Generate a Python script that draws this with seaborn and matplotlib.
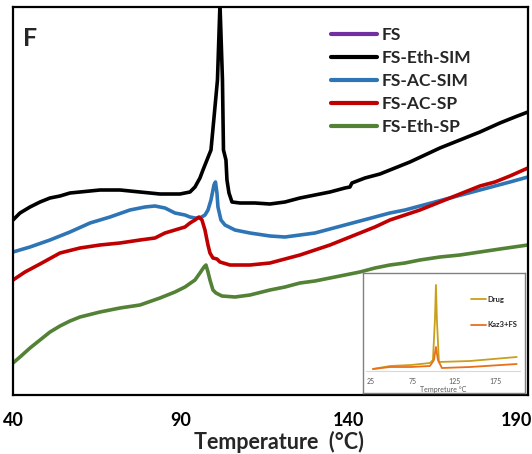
import numpy as np
import pandas as pd
import matplotlib
matplotlib.use("Agg")
import matplotlib.pyplot as plt
from matplotlib.lines import Line2D
import seaborn as sns

sns.set_style("white")
plt.rcParams['font.family'] = ['Lato', 'DejaVu Sans']

# ---------------- data ----------------
eth_sim_T = [40.0, 42.08, 45.06, 48.04, 51.01, 53.99, 56.96, 59.94, 65.89, 71.85, 77.80, 83.75,
             89.70, 91.19, 92.68, 94.17, 95.65, 96.55, 97.74, 98.93, 99.82, 100.86, 101.61,
             102.35, 102.65, 103.39, 103.69, 104.29, 105.18, 107.56, 112.02, 116.49, 120.95,
             125.42, 129.88, 134.35, 138.81, 140.30, 140.89, 144.76, 149.23, 153.69, 158.15,
             162.62, 167.08, 173.04, 178.99, 184.94, 189.40, 193.27]
eth_sim_v = [180, 187, 193, 198, 202, 204, 207, 208, 210, 210, 208, 206,
             206, 207, 208, 213, 222, 230, 240, 250, 282, 320, 396,
             320, 250, 240, 220, 207, 198, 197, 197, 196, 198,
             202, 205, 208, 212, 213, 217, 222, 226, 232, 238,
             245, 252, 260, 268, 277, 283, 288]

ac_sim_T = [40.0, 45.06, 51.01, 56.96, 62.92, 68.87, 74.82, 79.29, 82.26, 85.24, 88.21, 91.19,
            92.68, 94.17, 95.65, 97.14, 98.04, 98.93, 99.82, 100.27, 100.71, 101.01, 101.90,
            103.10, 106.07, 110.54, 116.49, 120.95, 125.42, 129.88, 134.35, 138.81, 143.27,
            147.74, 152.20, 156.67, 161.13, 165.60, 170.06, 174.52, 178.99, 183.45, 187.92,
            193.27]
ac_sim_v = [148, 153, 160, 168, 177, 183, 190, 193, 194, 192, 187, 185,
            183, 182, 182, 185, 190, 200, 215, 218, 207, 193, 180,
            175, 170, 167, 164, 163, 165, 167, 171, 175, 179,
            183, 187, 190, 194, 198, 202, 206, 210, 214, 218,
            223]

ac_sp_T = [40.0, 43.57, 48.04, 53.99, 59.94, 65.89, 71.85, 77.80, 82.26, 85.24, 88.21, 91.19,
           92.68, 94.17, 95.36, 96.25, 97.14, 98.04, 98.63, 99.52, 100.71, 101.61, 104.58,
           110.54, 116.49, 120.95, 125.42, 129.88, 134.35, 138.81, 143.27, 147.74, 152.20,
           156.67, 161.13, 165.60, 170.06, 174.52, 178.99, 183.45, 187.92, 193.27]
ac_sp_v = [120, 128, 136, 147, 152, 155, 157, 160, 162, 167, 170, 173,
           177, 180, 183, 180, 170, 155, 147, 142, 141, 138, 135,
           135, 137, 141, 145, 150, 155, 161, 167, 173, 180,
           185, 190, 196, 202, 208, 214, 218, 224, 232]

eth_sp_T = [40.0, 42.08, 45.06, 48.04, 51.01, 53.99, 56.96, 59.94, 65.89, 71.85, 77.80, 83.75,
            88.21, 91.19, 94.17, 95.65, 96.85, 97.44, 98.04, 98.63, 99.52, 100.42, 102.20,
            106.07, 110.54, 116.49, 120.95, 125.42, 129.88, 134.35, 138.81, 143.27, 147.74,
            152.20, 156.67, 161.13, 167.08, 173.04, 178.99, 184.94, 193.27]
eth_sp_v = [37, 43, 52, 60, 68, 74, 79, 83, 88, 92, 95, 102,
            108, 113, 120, 127, 133, 135, 128, 120, 110, 107, 104,
            103, 105, 110, 113, 117, 119, 122, 125, 128, 132,
            135, 137, 140, 143, 145, 148, 151, 155]

series_names = ["FS", "FS-Eth-SIM", "FS-AC-SIM", "FS-AC-SP", "FS-Eth-SP"]
series_colors = ["#7030A0", "#000000", "#2E75B6", "#C00000", "#538135"]

x_ticks = [40, 90, 140, 190]

# inset data
drug_T = [27.4, 47.8, 73, 95.8, 99.4, 101.8, 103, 104.2, 106.6, 143.8, 200]
drug_v = [31, 34, 35, 37, 40, 80, 115, 80, 38, 39, 43]
kaz_T = [27.4, 47.8, 73, 95.8, 100.6, 103, 105.4, 110.2, 143.8, 200]
kaz_v = [31, 33, 33, 34, 40, 53, 40, 32, 33, 36]
inset_names = ["Drug", "Kaz3+FS"]
inset_colors = ["#C9A01C", "#E8701A"]
inset_ticks = [25, 75, 125, 175]

# ---------------- figure ----------------
W, H = 532, 454
fig = plt.figure(figsize=(W / 100, H / 100), dpi=100)

def fx(px):
    return px / W

def fy(py):
    return 1 - py / H

ax = fig.add_axes([fx(13), fy(395), fx(528) - fx(13), fy(7) - fy(395)])

frames = []
for name, T, v in [("FS-Eth-SIM", eth_sim_T, eth_sim_v),
                   ("FS-AC-SIM", ac_sim_T, ac_sim_v),
                   ("FS-AC-SP", ac_sp_T, ac_sp_v),
                   ("FS-Eth-SP", eth_sp_T, eth_sp_v)]:
    frames.append(pd.DataFrame({"T": T, "v": v, "series": name}))
df = pd.concat(frames, ignore_index=True)

pal = dict(zip(series_names, series_colors))
sns.lineplot(data=df, x="T", y="v", hue="series", palette={k: pal[k] for k in series_names[1:]},
             estimator=None, sort=False, linewidth=2.6, ax=ax, legend=False)
for ln in ax.lines:
    ln.set_solid_joinstyle('round')

ax.set_xlim(40, 193.3)
ax.set_ylim(5, 393)
ax.set_xticks(x_ticks)
ax.set_xticklabels([str(t) for t in x_ticks], fontsize=13, fontweight='bold')
ax.set_yticks([])
ax.set_ylabel("")
ax.tick_params(axis='x', direction='out', length=5, width=1.6, pad=7, colors='black')
for s in ax.spines.values():
    s.set_linewidth(1.6)
    s.set_color('black')
ax.set_xlabel("Temperature  (°C)", fontsize=15.5, fontweight='bold')
ax.xaxis.set_label_coords((279 - 13) / 515, -0.092)

ax.text(fx(23), fy(27), "F", transform=fig.transFigure, fontsize=18, fontweight='bold',
        ha='left', va='top')

handles = [Line2D([0], [0], color=c, lw=3) for c in series_colors]
leg = ax.legend(handles, series_names, loc='upper left', bbox_to_anchor=(fx(331), fy(27)),
                bbox_transform=fig.transFigure, frameon=False, borderpad=0, borderaxespad=0,
                handlelength=2.65, handletextpad=0.25, labelspacing=0.41,
                prop={'weight': 'bold', 'size': 12.5})

# ---------------- inset ----------------
box = fig.add_axes([fx(363), fy(393), fx(525) - fx(363), fy(273) - fy(393)])
box.set_xticks([]); box.set_yticks([])
box.set_facecolor('white')
for s in box.spines.values():
    s.set_color('#808080'); s.set_linewidth(1.0)
box.set_zorder(3)

iax = fig.add_axes([fx(366), fy(371), fx(520) - fx(366), fy(280) - fy(371)])
iax.set_zorder(4)
iax.patch.set_alpha(0)
idf = pd.concat([pd.DataFrame({"T": drug_T, "v": drug_v, "s": "Drug"}),
                 pd.DataFrame({"T": kaz_T, "v": kaz_v, "s": "Kaz3+FS"})], ignore_index=True)
sns.lineplot(data=idf, x="T", y="v", hue="s", palette=dict(zip(inset_names, inset_colors)),
             estimator=None, sort=False, linewidth=1.3, ax=iax, legend=False)
iax.set_xlim(19, 204)
iax.set_ylim(29, 120)
iax.set_xticks(inset_ticks)
iax.set_xticklabels([str(t) for t in inset_ticks], fontsize=5, color='#595959')
iax.tick_params(axis='x', length=0, pad=5)
iax.set_yticks([])
iax.set_ylabel("")
iax.set_xlabel("Tempreture °C", fontsize=5, color='#595959', labelpad=1)
for k in ['top', 'right', 'left']:
    iax.spines[k].set_visible(False)
iax.spines['bottom'].set_color('#D9D9D9')
iax.spines['bottom'].set_linewidth(0.8)
ih = [Line2D([0], [0], color=c, lw=1.3) for c in inset_colors]
iax.legend(ih, inset_names, loc='upper left', bbox_to_anchor=(fx(471), fy(296)),
           bbox_transform=fig.transFigure, frameon=False, borderpad=0, borderaxespad=0,
           handlelength=2.0, handletextpad=0.2, labelspacing=2.4,
           prop={'weight': 'bold', 'size': 5.5})

fig.savefig("out.png", dpi=100)
